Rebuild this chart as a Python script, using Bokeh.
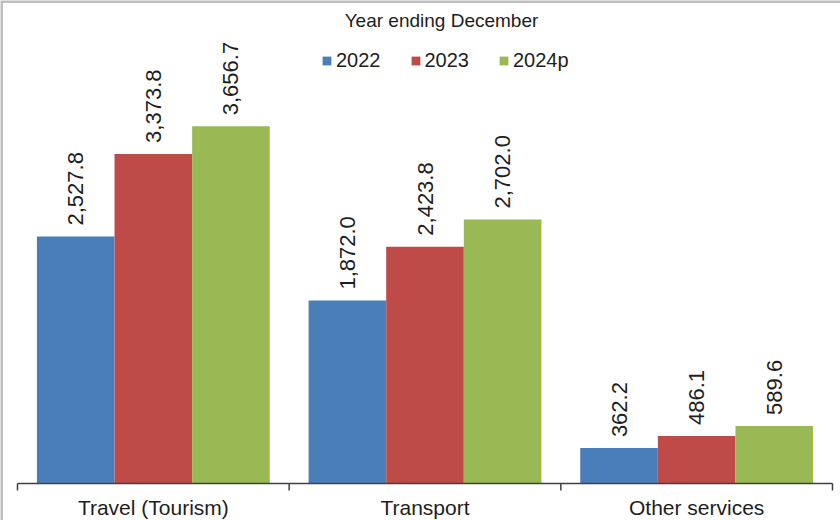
import numpy as np
from bokeh.plotting import figure
from bokeh.models import ColumnDataSource, Legend, LegendItem, Label, Range1d, Span
from bokeh.core.properties import value
from bokeh.embed import file_html
from bokeh.resources import INLINE

categories = ["Travel (Tourism)", "Transport", "Other services"]
years = ["2022", "2023", "2024p"]
v2022 = [2527.8, 1872.0, 362.2]
v2023 = [3373.8, 2423.8, 486.1]
v2024 = [3656.7, 2702.0, 589.6]
colors = ["#4A7EBB", "#BE4B48", "#98B954"]
title_text = "Year ending December"

FONT = "Liberation Sans"
W, H = 840, 520
# layout (pixels): plot area from x=17 to 832, category axis at y=483
ax_left, ax_right, ax_y = 17, 832, 483
px_per_unit = 0.0977
n = len(categories)
ux = (ax_right - ax_left) / n
x0 = -ax_left / ux
x1 = n + (W - ax_right) / ux
y1 = ax_y / px_per_unit
y0 = -(H - ax_y) / px_per_unit

p = figure(width=W, height=H, x_range=Range1d(x0, x1), y_range=Range1d(y0, y1),
           output_backend="svg", toolbar_location=None,
           min_border_left=0, min_border_right=0, min_border_top=0, min_border_bottom=0)
p.outline_line_color = None
p.grid.visible = False
p.xaxis.visible = False
p.yaxis.visible = False
p.background_fill_color = "white"
p.border_fill_color = "white"

bw = 1 / 3.5
items = []
for j, (yr, vals, col) in enumerate(zip(years, [v2022, v2023, v2024], colors)):
    xs = [i + 0.5 + (j - 1) * bw for i in range(n)]
    src = ColumnDataSource(dict(x=xs, top=vals, lab=[f"{v:,.1f}" for v in vals]))
    r = p.vbar(x="x", top="top", width=bw, bottom=0, source=src,
               fill_color=col, line_color=None)
    p.text(x="x", y="top", text="lab", source=src, angle=np.pi / 2,
           text_align="left", text_baseline="middle", y_offset=-11,
           text_font=value(FONT), text_font_size="22px", text_color="#1e1e1e")
    items.append(LegendItem(label=yr, renderers=[r]))

# category axis: line, boundary ticks, labels
tick_len = 7 / px_per_unit
bounds = list(range(n + 1))
p.segment(x0=[0], y0=[0], x1=[n], y1=[0], line_color="#404040", line_width=1.5)
p.segment(x0=bounds, y0=[0] * len(bounds), x1=bounds, y1=[-tick_len] * len(bounds),
          line_color="#404040", line_width=1.5)
p.text(x=[i + 0.5 for i in range(n)], y=[0] * n, text=categories,
       text_align="center", text_baseline="top", y_offset=12,
       text_font=value(FONT), text_font_size="21px", text_color="#1e1e1e")

# grey border at left and top of the picture
p.add_layout(Span(location=x0, dimension="height", line_color="#BFBFBF", line_width=5))
p.add_layout(Span(location=y1, dimension="width", line_color="#BFBFBF", line_width=5))

legend = Legend(items=items, orientation="horizontal", location=(321, H - 72),
                border_line_color=None, background_fill_alpha=0, padding=0, margin=0,
                spacing=29, label_standoff=4, glyph_width=11, glyph_height=11,
                label_text_font=FONT, label_text_font_size="20px", label_height=20,
                label_text_color="#1e1e1e")
p.add_layout(legend)

p.add_layout(Label(x=441, y=H - 20, x_units="screen", y_units="screen", text=title_text,
                   text_align="center", text_baseline="middle", text_font=FONT,
                   text_font_size="19px", text_color="#1e1e1e"))

open("out.html", "w").write(file_html(p, INLINE))
